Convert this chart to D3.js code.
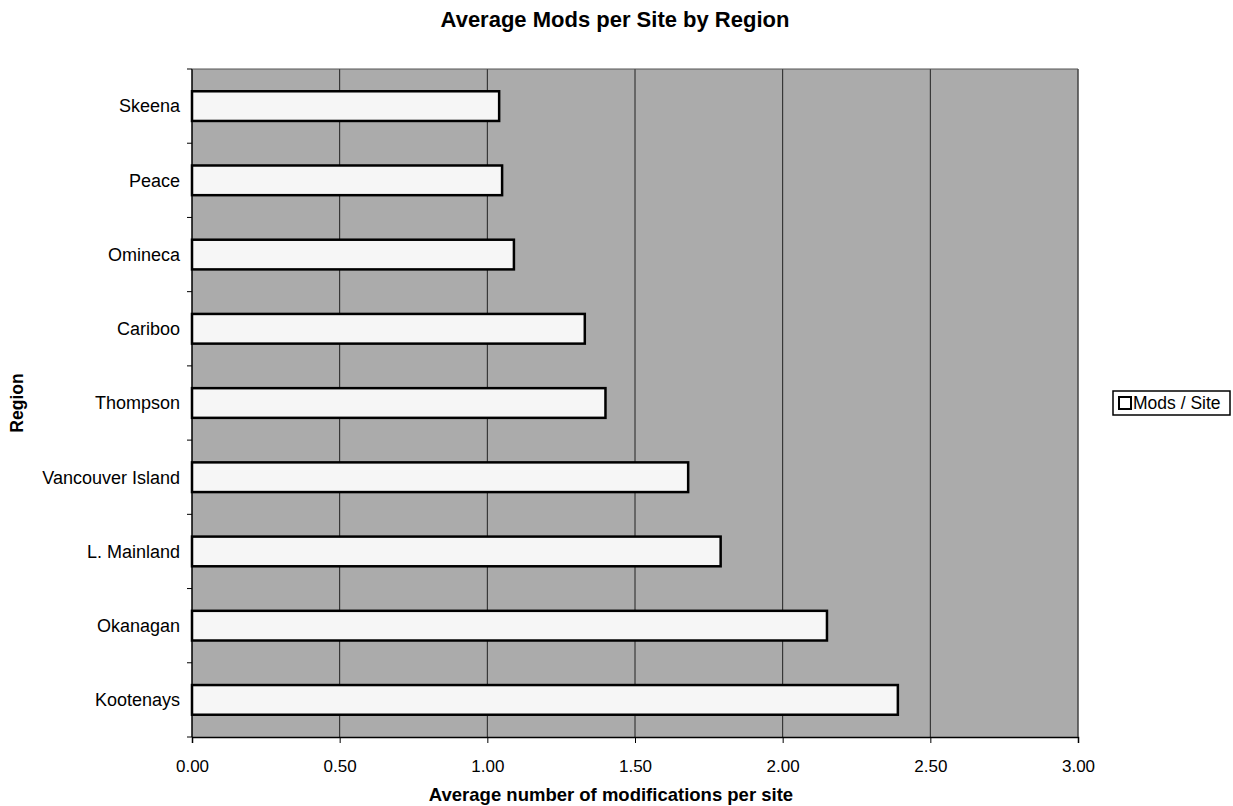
<!DOCTYPE html>
<html lang="en">
<head>
<meta charset="utf-8">
<script src="https://cdn.jsdelivr.net/npm/d3@7"></script>
<style>
    body { margin: 0; background: #fff; }
    text { font-family: Arial, "Liberation Sans", sans-serif; fill: #000; }
</style>
</head>
<body>
<div id="chart"></div>
<script>
    // chart data
    const regions = ["Skeena", "Peace", "Omineca", "Cariboo", "Thompson",
                     "Vancouver Island", "L. Mainland", "Okanagan", "Kootenays"];
    const modsPerSite = [1.04, 1.05, 1.09, 1.33, 1.40, 1.68, 1.79, 2.15, 2.39];
    const xTicks = [0, 0.5, 1, 1.5, 2, 2.5, 3];
    const seriesName = "Mods / Site";

    const width = 1233, height = 806;
    const margin = { top: 69, right: 155, bottom: 69, left: 192 };
    const plotW = width - margin.left - margin.right;
    const plotH = height - margin.top - margin.bottom;

    const svg = d3.select("#chart").append("svg")
        .attr("width", width)
        .attr("height", height);

    const x = d3.scaleLinear().domain([0, 3]).range([0, plotW]);
    const y = d3.scaleBand().domain(regions).range([0, plotH])
        .paddingInner(0.6).paddingOuter(0.3);

    const g = svg.append("g").attr("transform", `translate(${margin.left},${margin.top})`);

    // grey plot background
    g.append("rect")
        .attr("width", plotW)
        .attr("height", plotH)
        .attr("fill", "#ababab");

    // vertical gridlines
    g.append("g").selectAll("line")
        .data(xTicks.slice(1))
        .enter().append("line")
        .attr("x1", d => x(d)).attr("x2", d => x(d))
        .attr("y1", 0).attr("y2", plotH)
        .attr("stroke", "#222")
        .attr("stroke-width", 1);

    // bars
    g.append("g").selectAll("rect")
        .data(regions)
        .enter().append("rect")
        .attr("x", 0)
        .attr("y", d => y(d))
        .attr("width", (d, i) => x(modsPerSite[i]))
        .attr("height", y.bandwidth())
        .attr("fill", "#f6f6f6")
        .attr("stroke", "#000")
        .attr("stroke-width", 2.5);

    // x axis
    const xAxis = g.append("g")
        .attr("transform", `translate(0,${plotH})`)
        .call(d3.axisBottom(x).tickValues(xTicks).tickFormat(d3.format(".2f")).tickSize(6).tickPadding(17));
    xAxis.select(".domain").attr("stroke", "#000").attr("stroke-width", 1.5);
    xAxis.selectAll(".tick line").attr("stroke", "#000");
    xAxis.selectAll("text").style("font-size", "17px").attr("fill", "#000");

    // y axis: labels at band centres, tick marks at band edges
    const step = plotH / regions.length;
    g.append("line")
        .attr("x1", 0).attr("x2", 0).attr("y1", 0).attr("y2", plotH)
        .attr("stroke", "#000").attr("stroke-width", 1.5);
    g.append("g").selectAll("line")
        .data(d3.range(regions.length + 1))
        .enter().append("line")
        .attr("x1", -5).attr("x2", 0)
        .attr("y1", d => d * step).attr("y2", d => d * step)
        .attr("stroke", "#000");
    g.append("g").selectAll("text")
        .data(regions)
        .enter().append("text")
        .attr("x", -12)
        .attr("y", d => y(d) + y.bandwidth() / 2)
        .attr("dy", "0.35em")
        .attr("text-anchor", "end")
        .style("font-size", "18px")
        .text(d => d);

    // plot border on top and right
    g.append("path")
        .attr("d", `M0,0H${plotW}V${plotH}`)
        .attr("fill", "none")
        .attr("stroke", "#555")
        .attr("stroke-width", 1);

    // titles
    svg.append("text")
        .attr("x", 615).attr("y", 27)
        .attr("text-anchor", "middle")
        .style("font-size", "22px").style("font-weight", "bold")
        .text("Average Mods per Site by Region");

    svg.append("text")
        .attr("x", 611).attr("y", 801)
        .attr("text-anchor", "middle")
        .style("font-size", "18.5px").style("font-weight", "bold")
        .text("Average number of modifications per site");

    svg.append("text")
        .attr("transform", "translate(23,403) rotate(-90)")
        .attr("text-anchor", "middle")
        .style("font-size", "17.5px").style("font-weight", "bold")
        .text("Region");

    // legend
    const legend = svg.append("g").attr("transform", "translate(1113,391)");
    legend.append("rect")
        .attr("width", 117).attr("height", 24)
        .attr("fill", "#fff").attr("stroke", "#000").attr("stroke-width", 1.5);
    legend.append("rect")
        .attr("x", 6).attr("y", 6).attr("width", 12).attr("height", 12)
        .attr("fill", "#fff").attr("stroke", "#000").attr("stroke-width", 2);
    legend.append("text")
        .attr("x", 20).attr("y", 12).attr("dy", "0.35em")
        .style("font-size", "17.5px")
        .text(seriesName);
</script>
</body>
</html>
